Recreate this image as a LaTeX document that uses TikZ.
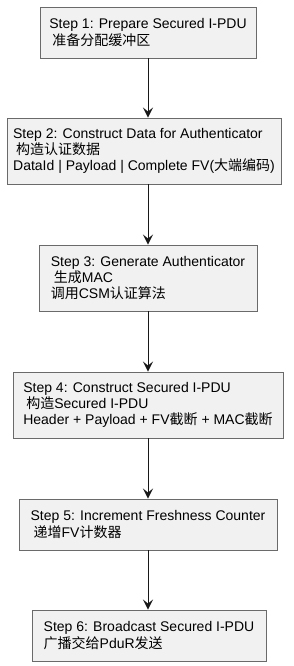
\documentclass[tikz,border=0pt]{standalone}
\usepackage{fontspec}
\setmainfont{Liberation Sans}
\newfontfamily\cjk{Noto Sans CJK SC}
\usetikzlibrary{arrows.meta}
\definecolor{boxfill}{HTML}{F1F1F1}
\definecolor{boxline}{HTML}{6A6A6A}
\definecolor{arr}{HTML}{181818}
\begin{document}
\begin{tikzpicture}[x=1pt,y=-1pt,
  stepbox/.style={draw=boxline, fill=boxfill, line width=0.9pt, align=left,
    inner xsep=0pt, inner ysep=0pt, font=\fontsize{14}{16.3}\selectfont, text=black},
  flow/.style={draw=arr, line width=1pt, -{Stealth[length=10pt,width=10pt,inset=4pt]}}]
\useasboundingbox (0,0) rectangle (294,666);
\node[stepbox, minimum width=216pt, minimum height=51pt] (s1) at (148,32.5)
  {Step 1: Prepare Secured I-PDU\\\hspace*{3pt}{\cjk 准备分配缓冲区}};
\node[stepbox, minimum width=274pt, minimum height=66pt] (s2) at (144,151)
  {Step 2: Construct Data for Authenticator\\\hspace*{3pt}{\cjk 构造认证数据}\\DataId | Payload | Complete FV({\cjk 大端编码})};
\node[stepbox, minimum width=218pt, minimum height=66pt] (s3) at (148,278)
  {Step 3: Generate Authenticator\\\hspace*{3pt}{\cjk 生成}MAC\\{\cjk 调用}CSM{\cjk 认证算法}};
\node[stepbox, minimum width=270pt, minimum height=66pt] (s4) at (148,405)
  {Step 4: Construct Secured I-PDU\\\hspace*{3pt}{\cjk 构造}Secured I-PDU\\Header + Payload + FV{\cjk 截断} + MAC{\cjk 截断}};
\node[stepbox, minimum width=258pt, minimum height=51pt] (s5) at (148,524.5)
  {Step 5: Increment Freshness Counter\\\hspace*{3pt}{\cjk 递增}FV{\cjk 计数器}};
\node[stepbox, minimum width=234pt, minimum height=51pt] (s6) at (149,635.5)
  {Step 6: Broadcast Secured I-PDU\\{\cjk 广播交给}PduR{\cjk 发送}};
\draw[flow] (s1.south) -- (s1.south |- s2.north);
\draw[flow] (s3.north |- s2.south) -- (s3.north);
\draw[flow] (s3.south) -- (s4.north);
\draw[flow] (s4.south) -- (s5.north);
\draw[flow] (s5.south) -- (s5.south |- s6.north);
\end{tikzpicture}
\end{document}
